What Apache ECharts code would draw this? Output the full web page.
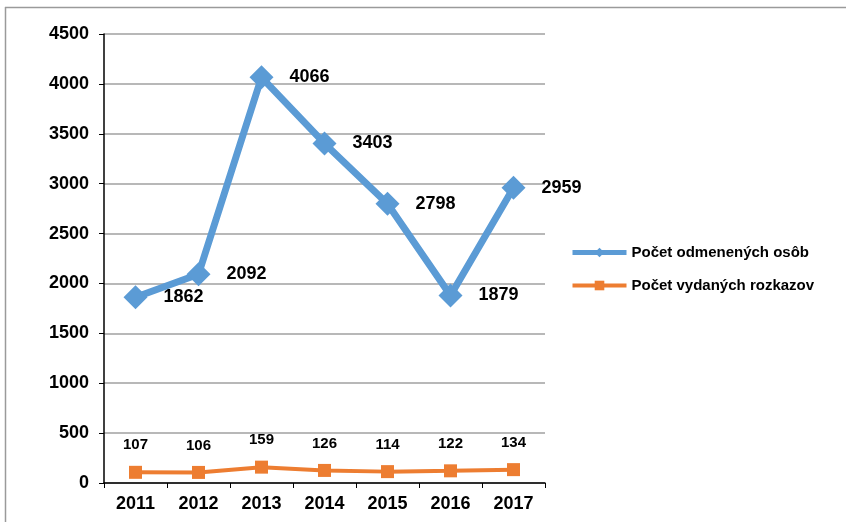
<!DOCTYPE html>
<html><head><meta charset="utf-8">
<script src="https://cdn.jsdelivr.net/npm/echarts@6/dist/echarts.min.js"></script>
<style>html,body{margin:0;padding:0;background:#fff}#c{width:846px;height:522px}</style>
</head><body><div id="c"></div>
<script>
const years = ['2011','2012','2013','2014','2015','2016','2017'];
const osob = [1862, 2092, 4066, 3403, 2798, 1879, 2959];
const rozkazov = [107, 106, 159, 126, 114, 122, 134];
const seriesNames = ['Počet odmenených osôb', 'Počet vydaných rozkazov'];

const chart = echarts.init(document.getElementById('c'));
const F = '"Liberation Sans", Arial, sans-serif';
chart.setOption({
  animation: false,
  backgroundColor: '#fff',
  graphic: [
    {type:'line', shape:{x1:5, y1:7.5, x2:846, y2:7.5}, style:{stroke:'#9a9a9a', lineWidth:1.5}},
    {type:'line', shape:{x1:5.5, y1:7, x2:5.5, y2:522}, style:{stroke:'#9a9a9a', lineWidth:1.5}}
  ],
  grid: {left:104, right:301, top:34, bottom:39},
  legend: {
    orient:'vertical', left:565, top:240, itemWidth:54, itemHeight:12, itemGap:18,
    textStyle:{fontFamily:F, fontWeight:'bold', fontSize:15, color:'#000'},
    data: [
      {name: seriesNames[0], lineStyle:{width:5}},
      {name: seriesNames[1], lineStyle:{width:4}}
    ]
  },
  xAxis: {
    type:'category', data: years, boundaryGap:true,
    axisLine:{lineStyle:{color:'#000', width:1.5}},
    axisTick:{show:true, length:5, lineStyle:{color:'#000'}},
    axisLabel:{fontFamily:F, fontWeight:'bold', fontSize:18, color:'#000', margin:12}
  },
  yAxis: {
    type:'value', min:0, max:4500, interval:500,
    axisLine:{show:true, lineStyle:{color:'#000', width:1.5}},
    axisTick:{show:true, length:5, lineStyle:{color:'#000'}},
    axisLabel:{fontFamily:F, fontWeight:'bold', fontSize:18, color:'#000', margin:15, formatter: v => String(v)},
    splitLine:{lineStyle:{color:'#a0a0a0', width:1.5}}
  },
  series: [
    {
      name: seriesNames[0], type:'line', data: osob,
      symbol:'diamond', symbolSize:24,
      lineStyle:{color:'#5B9BD5', width:7},
      itemStyle:{color:'#5B9BD5'},
      label:{show:true, position:'right', distance:16, fontFamily:F, fontWeight:'bold', fontSize:18, color:'#000'}
    },
    {
      name: seriesNames[1], type:'line', data: rozkazov,
      symbol:'rect', symbolSize:13,
      lineStyle:{color:'#ED7D31', width:4},
      itemStyle:{color:'#ED7D31'},
      label:{show:true, position:'top', distance:13, fontFamily:F, fontWeight:'bold', fontSize:15, color:'#000'}
    }
  ]
});
</script></body></html>
